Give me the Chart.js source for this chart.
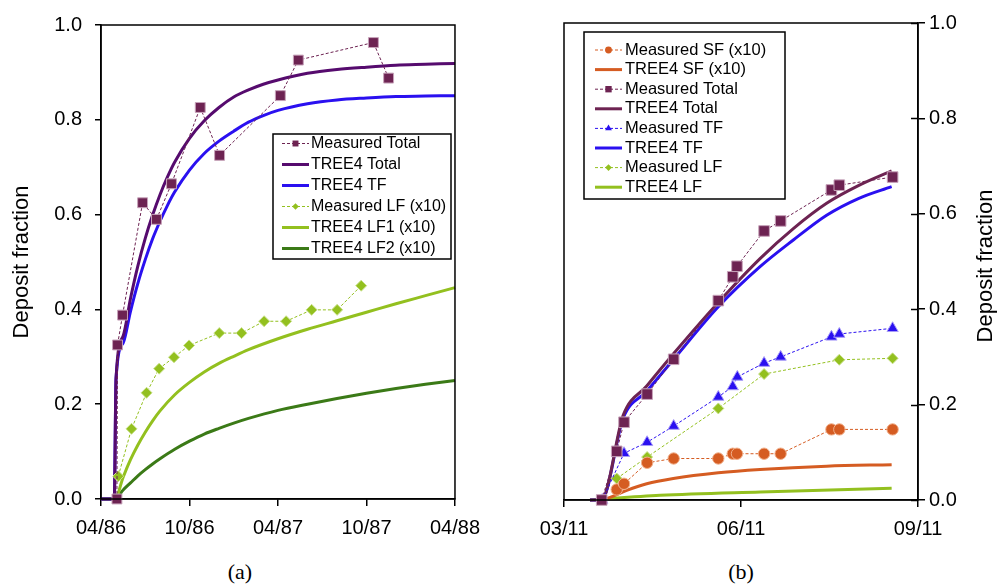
<!DOCTYPE html>
<html>
<head>
<meta charset="utf-8">
<script src="https://cdn.jsdelivr.net/npm/chart.js@4.4.1/dist/chart.umd.min.js"></script>
<style>
  body { margin: 0; background: #fff; width: 998px; height: 585px; overflow: hidden; position: relative; }
  canvas { position: absolute; top: 0; }
  #chartA { left: 0; }
  #chartB { left: 500px; }
  .cap { position: absolute; top: 559px; width: 60px; text-align: center;
         font-family: "Liberation Serif", "Times New Roman", serif; font-size: 22px; }
</style>
</head>
<body>
<canvas id="chartA" width="490" height="550"></canvas>
<canvas id="chartB" width="498" height="550"></canvas>
<div class="cap" style="left:210px">(a)</div>
<div class="cap" style="left:711px">(b)</div>
<script>
// ---- panel (a): months counted from 04/86 ----
const aTickMonths = [0, 6, 12, 18, 24];
const aTickLabels = ['04/86', '10/86', '04/87', '10/87', '04/88'];

const aMeasTotalX = [1.08, 1.12, 1.46, 2.82, 3.76, 4.78, 6.73, 8.04, 12.16, 13.38, 18.47, 19.5];
const aMeasTotalY = [0, 0.325, 0.388, 0.625, 0.59, 0.665, 0.826, 0.725, 0.851, 0.926, 0.963, 0.888];

const aMeasLFX = [1.17, 2.07, 3.09, 3.94, 4.95, 5.97, 8.02, 9.53, 11.06, 12.55, 14.28, 16.01, 17.64];
const aMeasLFY = [0.048, 0.148, 0.224, 0.275, 0.299, 0.324, 0.35, 0.35, 0.375, 0.375, 0.399, 0.399, 0.45];

const aModelX = [0, 0.9, 1.02, 1.5, 2, 2.5, 3, 3.5, 4, 4.5, 5, 6, 7, 8, 9, 10, 11, 12, 14, 16, 18, 20, 22, 24];
const aModelTotal = [0, 0, 0.254, 0.344, 0.423, 0.492, 0.55, 0.599, 0.642, 0.679, 0.711, 0.761, 0.798, 0.826, 0.848, 0.863, 0.875, 0.884, 0.898, 0.906, 0.911, 0.915, 0.917, 0.919];
const aModelTF = [0, 0, 0.254, 0.329, 0.396, 0.455, 0.505, 0.549, 0.586, 0.619, 0.648, 0.694, 0.729, 0.755, 0.776, 0.795, 0.809, 0.82, 0.834, 0.842, 0.846, 0.849, 0.85, 0.851];

const aLFX = [0, 0.95, 1.5, 2, 2.5, 3, 3.5, 4, 5, 6, 7, 8, 9, 10, 12, 14, 16, 18, 20, 22, 24];
const aModelLF1 = [0, 0, 0.046, 0.083, 0.114, 0.141, 0.165, 0.186, 0.22, 0.246, 0.268, 0.286, 0.301, 0.315, 0.338, 0.358, 0.376, 0.394, 0.412, 0.429, 0.446];
const aModelLF2 = [0, 0, 0.019, 0.034, 0.049, 0.062, 0.074, 0.085, 0.105, 0.122, 0.137, 0.149, 0.16, 0.17, 0.187, 0.2, 0.212, 0.223, 0.233, 0.242, 0.25];

// ---- panel (b): days counted from 03/11 ----
const bTickDays = [0, 92, 184];
const bTickLabels = ['03/11', '06/11', '09/11'];

const bMeasDays = [19.6, 27.4, 31.2, 43.2, 57, 80.2, 87.7, 89.9, 104, 112.6, 139, 143.1, 170.8];
const bMeasTotal = [0, 0.102, 0.163, 0.222, 0.295, 0.418, 0.468, 0.49, 0.564, 0.585, 0.65, 0.66, 0.677];
const bMeasTFDays = [19.9, 31.2, 43.2, 57, 80.2, 87.7, 90.1, 104, 112.6, 139, 143.1, 170.8];
const bMeasTF = [0, 0.098, 0.121, 0.155, 0.216, 0.238, 0.258, 0.287, 0.3, 0.342, 0.348, 0.36];
const bMeasLFDays = [27.4, 43.2, 80.2, 104, 143.1, 170.8];
const bMeasLF = [0.045, 0.09, 0.192, 0.264, 0.294, 0.297];
const bMeasSFDays = [27.4, 31.2, 43.2, 57, 80.2, 87.7, 89.9, 104, 112.6, 139, 143.1, 170.8];
const bMeasSF = [0.022, 0.034, 0.078, 0.087, 0.087, 0.097, 0.097, 0.097, 0.097, 0.148, 0.148, 0.148];

const bModelDays = [13.5, 19.5, 30.8, 43, 56.8, 80.2, 101.9, 119.2, 136.5, 153, 170.3];
const bModelTotal = [0, 0, 0.178, 0.239, 0.306, 0.414, 0.506, 0.569, 0.622, 0.659, 0.69];
const bModelTF = [0, 0, 0.172, 0.228, 0.294, 0.405, 0.489, 0.545, 0.597, 0.632, 0.657];
const bSFDays = [20, 25, 32.6, 43, 56.8, 80.2, 101.9, 136.5, 170.3];
const bModelSF = [0, 0.007, 0.02, 0.034, 0.045, 0.057, 0.064, 0.071, 0.074];
const bLFDays = [13.5, 50, 102, 170.3];
const bModelLF = [0, 0.01, 0.017, 0.0245];

const yTicks = [0, 0.2, 0.4, 0.6, 0.8, 1.0];

const pts = (xs, ys) => xs.map((x, i) => ({ x: x, y: ys[i] }));

function measured(label, xs, ys, color, style, r, edge) {
    return {
        label: label, data: pts(xs, ys), order: 0, clip: false,
        borderColor: color, borderWidth: 1, borderDash: [3, 2],
        pointStyle: style, pointRadius: r, pointBackgroundColor: color,
        pointBorderColor: edge, pointBorderWidth: 1, tension: 0
    };
}

function model(label, xs, ys, color) {
    return {
        label: label, data: pts(xs, ys), order: 1, clip: false,
        borderColor: color, borderWidth: 3, pointRadius: 0,
        cubicInterpolationMode: 'monotone'
    };
}

function marker(ctx, style, x, y, r, fill) {
    ctx.fillStyle = fill;
    ctx.beginPath();
    if (style === 'circle') {
        ctx.arc(x, y, r, 0, Math.PI * 2);
    } else if (style === 'rect') {
        const h = r * Math.SQRT1_2;
        ctx.rect(x - h, y - h, 2 * h, 2 * h);
    } else if (style === 'rectRot') {
        ctx.moveTo(x, y - r); ctx.lineTo(x + r, y); ctx.lineTo(x, y + r); ctx.lineTo(x - r, y);
        ctx.closePath();
    } else if (style === 'triangle') {
        ctx.moveTo(x, y - r); ctx.lineTo(x + r * 0.866, y + r / 2); ctx.lineTo(x - r * 0.866, y + r / 2);
        ctx.closePath();
    }
    ctx.fill();
}

// box around the plot, inner ticks, side title
const frameBox = {
    id: 'frameBox',
    afterDraw(chart, args, o) {
        const { left, right, top, bottom } = chart.chartArea;
        const ctx = chart.ctx;
        ctx.save();
        ctx.strokeStyle = '#000';
        ctx.lineWidth = 1.5;
        ctx.strokeRect(left, top, right - left, bottom - top);
        if (o.innerTicks) {
            const ys = chart.scales.y;
            ys.ticks.forEach(t => {
                const py = Math.round(ys.getPixelForValue(t.value)) + 0.5;
                ctx.beginPath(); ctx.moveTo(right - 7, py); ctx.lineTo(right, py); ctx.stroke();
            });
        }
        ctx.fillStyle = '#000';
        ctx.font = '22px "Liberation Sans", Arial, sans-serif';
        ctx.textAlign = 'center';
        ctx.textBaseline = 'middle';
        ctx.translate(o.titleX, o.titleY);
        ctx.rotate(-Math.PI / 2);
        ctx.fillText('Deposit fraction', 0, 0);
        ctx.restore();
    }
};

const boxLegend = {
    id: 'boxLegend',
    afterDraw(chart, args, o) {
        const ctx = chart.ctx;
        ctx.save();
        ctx.fillStyle = '#fff';
        ctx.fillRect(o.x, o.y, o.w, o.h);
        ctx.strokeStyle = '#000';
        ctx.lineWidth = 1.5;
        ctx.strokeRect(o.x, o.y, o.w, o.h);
        ctx.font = o.size + 'px "Liberation Sans", Arial, sans-serif';
        ctx.textBaseline = 'middle';
        chart.data.datasets.forEach((ds, i) => {
            const y = o.y0 + i * o.step;
            ctx.strokeStyle = ds.borderColor;
            ctx.lineWidth = ds.borderDash ? 1 : 3;
            ctx.setLineDash(ds.borderDash || []);
            ctx.beginPath(); ctx.moveTo(o.x0, y); ctx.lineTo(o.x1, y); ctx.stroke();
            ctx.setLineDash([]);
            if (ds.pointRadius) marker(ctx, ds.pointStyle, (o.x0 + o.x1) / 2, y, ds.pointRadius * 0.6, ds.pointBackgroundColor);
            ctx.fillStyle = '#000';
            ctx.fillText(ds.label, o.tx, y);
        });
        ctx.restore();
    }
};

const tickFont = { family: '"Liberation Sans", Arial, sans-serif', size: 20 };

function xScale(min, max, values, labels, height) {
    return {
        type: 'linear', min: min, max: max,
        afterBuildTicks: s => { s.ticks = values.map(v => ({ value: v })); },
        afterFit: s => { s.height = height; },
        border: { color: '#000', width: 1.5 },
        grid: { drawOnChartArea: false, color: '#000', lineWidth: 1.5, tickLength: 7 },
        ticks: { callback: v => labels[values.indexOf(v)], color: '#000', font: tickFont,
                 padding: 10, maxRotation: 0, autoSkip: false }
    };
}

function yScale(position, width, tickLen, pad) {
    return {
        type: 'linear', position: position, min: 0, max: 1,
        afterBuildTicks: s => { s.ticks = yTicks.map(v => ({ value: v })); },
        afterFit: s => { s.width = width; },
        border: { color: '#000', width: 1.5 },
        grid: { drawOnChartArea: false, color: '#000', lineWidth: 1.5, tickLength: tickLen },
        ticks: { callback: v => v.toFixed(1), color: '#000', font: tickFont, padding: pad }
    };
}

new Chart(document.getElementById('chartA'), {
    type: 'line',
    data: {
        datasets: [
            measured('Measured Total', aMeasTotalX, aMeasTotalY, '#6d2352', 'rect', 7, '#c7a3ba'),
            model('TREE4 Total', aModelX, aModelTotal, '#560b6e'),
            model('TREE4 TF', aModelX, aModelTF, '#2a10f0'),
            measured('Measured LF (x10)', aMeasLFX, aMeasLFY, '#93c01f', 'rectRot', 5.5, '#c9e08c'),
            model('TREE4 LF1 (x10)', aLFX, aModelLF1, '#93c01f'),
            model('TREE4 LF2 (x10)', aLFX, aModelLF2, '#3b7a17')
        ]
    },
    options: {
        responsive: false,
        animation: false,
        layout: { padding: { top: 23, right: 34, left: 0, bottom: 0 } },
        plugins: {
            legend: { display: false },
            tooltip: { enabled: false },
            frameBox: { titleX: 22, titleY: 262 },
            boxLegend: { x: 273, y: 134, w: 178, h: 125, y0: 143.5, step: 21, x0: 282, x1: 309, tx: 311, size: 16 }
        },
        scales: {
            x: xScale(0, 24, aTickMonths, aTickLabels, 51),
            y: yScale('left', 101, 6, 13)
        }
    },
    plugins: [frameBox, boxLegend]
});

new Chart(document.getElementById('chartB'), {
    type: 'line',
    data: {
        datasets: [
            measured('Measured SF (x10)', bMeasSFDays, bMeasSF, '#d55c22', 'circle', 5.7, '#f0b08c'),
            model('TREE4 SF (x10)', bSFDays, bModelSF, '#d55c22'),
            measured('Measured Total', bMeasDays, bMeasTotal, '#6d2352', 'rect', 7.5, '#c7a3ba'),
            model('TREE4 Total', bModelDays, bModelTotal, '#6d2352'),
            measured('Measured TF', bMeasTFDays, bMeasTF, '#2a10f0', 'triangle', 6.5, '#a89cf8'),
            model('TREE4 TF', bModelDays, bModelTF, '#2a10f0'),
            measured('Measured LF', bMeasLFDays, bMeasLF, '#93c01f', 'rectRot', 5.5, '#c9e08c'),
            model('TREE4 LF', bLFDays, bModelLF, '#93c01f')
        ]
    },
    options: {
        responsive: false,
        animation: false,
        layout: { padding: { top: 23, right: 0, left: 64, bottom: 0 } },
        plugins: {
            legend: { display: false },
            tooltip: { enabled: false },
            frameBox: { titleX: 486, titleY: 266, innerTicks: true },
            boxLegend: { x: 84, y: 32, w: 201, h: 167, y0: 50, step: 19.6, x0: 95, x1: 122, tx: 125, size: 16.5 }
        },
        scales: {
            x: xScale(0, 184, bTickDays, bTickLabels, 50),
            y: yScale('right', 80, 7, 4)
        }
    },
    plugins: [frameBox, boxLegend]
});
</script>
</body>
</html>
